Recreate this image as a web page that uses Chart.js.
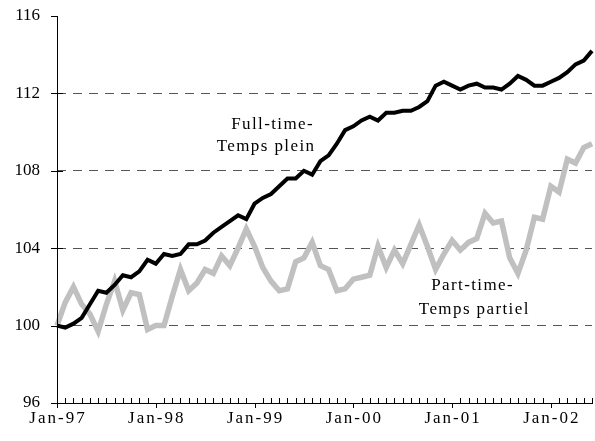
<!DOCTYPE html>
<html>
<head>
<meta charset="utf-8">
<script src="https://cdn.jsdelivr.net/npm/chart.js@4/dist/chart.umd.min.js"></script>
<style>
  html, body { margin: 0; padding: 0; background: #fff; }
  #wrap { width: 595px; height: 441px; }
</style>
</head>
<body>
<div id="wrap"><canvas id="empChart"></canvas></div>
<script>
// Monthly, Jan-97 .. Jun-02, index Jan-97 = 100
const monthNames = ['Jan', 'Feb', 'Mar', 'Apr', 'May', 'Jun', 'Jul', 'Aug', 'Sep', 'Oct', 'Nov', 'Dec'];
const years = ['97', '98', '99', '00', '01', '02'];

const months = [];
years.forEach(function(y) {
    monthNames.forEach(function(m) { months.push(m + '-' + y); });
});
months.length = 66; // last month is Jun-02

const fullTime = [
    100.0, 99.9, 100.1, 100.4, 101.1, 101.8, 101.7, 102.1, 102.6, 102.5, 102.8, 103.4,
    103.2, 103.7, 103.6, 103.7, 104.2, 104.2, 104.4, 104.8, 105.1, 105.4, 105.7, 105.5,
    106.3, 106.6, 106.8, 107.2, 107.6, 107.6, 108.0, 107.8, 108.5, 108.8, 109.4, 110.1,
    110.3, 110.6, 110.8, 110.6, 111.0, 111.0, 111.1, 111.1, 111.3, 111.6, 112.4, 112.6,
    112.4, 112.2, 112.4, 112.5, 112.3, 112.3, 112.2, 112.5, 112.9, 112.7, 112.4, 112.4,
    112.6, 112.8, 113.1, 113.5, 113.7, 114.2
];

const partTime = [
    100.0, 101.2, 102.0, 101.1, 100.6, 99.7, 101.1, 102.3, 100.8, 101.7, 101.6, 99.8,
    100.0, 100.0, 101.5, 102.9, 101.8, 102.2, 102.9, 102.7, 103.6, 103.1, 104.0, 105.0,
    104.1, 103.0, 102.3, 101.8, 101.9, 103.3, 103.5, 104.3, 103.1, 102.9, 101.8, 101.9,
    102.4, 102.5, 102.6, 104.1, 103.0, 103.9, 103.2, 104.2, 105.2, 104.1, 102.9, 103.7,
    104.4, 103.9, 104.3, 104.5, 105.8, 105.3, 105.4, 103.5, 102.7, 103.9, 105.6, 105.5,
    107.2, 106.9, 108.6, 108.4, 109.2, 109.4
];

const yTicks = [96, 100, 104, 108, 112, 116];

const serif = '"Liberation Serif", "Times New Roman", serif';

// axis tick marks, x labels and series labels drawn from the scales
const decorations = {
    id: 'decorations',
    afterDraw: function(chart) {
        const ctx = chart.ctx;
        const x = chart.scales.x;
        const y = chart.scales.y;
        const area = chart.chartArea;
        ctx.save();
        ctx.setLineDash([]);
        ctx.strokeStyle = '#000';
        ctx.lineWidth = 1;
        ctx.beginPath();
        // y axis line
        ctx.moveTo(area.left + 0.5, area.top);
        ctx.lineTo(area.left + 0.5, area.bottom);
        months.forEach(function(m, i) {
            const px = Math.round(x.getPixelForValue(i)) + 0.5;
            if (m.indexOf('Jan') === 0) {
                ctx.moveTo(px, area.bottom);
                ctx.lineTo(px, area.bottom + 5);
            } else {
                ctx.moveTo(px, area.bottom);
                ctx.lineTo(px, area.bottom - 5);
            }
        });
        yTicks.forEach(function(v) {
            const py = Math.round(y.getPixelForValue(v)) + 0.5;
            ctx.moveTo(area.left - 6, py);
            ctx.lineTo(v === 116 ? area.left : area.left + 6, py);
        });
        ctx.stroke();

        ctx.fillStyle = '#000';
        ctx.font = '17px ' + serif;
        ctx.textAlign = 'center';
        ctx.textBaseline = 'alphabetic';
        ctx.letterSpacing = '2px';
        months.forEach(function(m, i) {
            if (m.indexOf('Jan') === 0) {
                ctx.fillText(m, x.getPixelForValue(i) + 1, area.bottom + 20);
            }
        });

        ctx.letterSpacing = '1.4px';
        ctx.fillText('Full-time-', x.getPixelForValue(26.2), y.getPixelForValue(110.18));
        ctx.fillText('Temps plein', x.getPixelForValue(25.4), y.getPixelForValue(109.04));
        ctx.fillText('Part-time-', x.getPixelForValue(50.5), y.getPixelForValue(101.85));
        ctx.fillText('Temps partiel', x.getPixelForValue(50.7), y.getPixelForValue(100.6));
        ctx.restore();
    }
};

new Chart(document.getElementById('empChart'), {
    type: 'line',
    data: {
        labels: months,
        datasets: [{
            label: 'Full-time - Temps plein',
            data: fullTime,
            borderColor: '#000000',
            borderWidth: 4,
            pointRadius: 0,
            tension: 0,
            fill: false
        }, {
            label: 'Part-time - Temps partiel',
            data: partTime,
            borderColor: '#c0c0c0',
            borderWidth: 5.5,
            pointRadius: 0,
            tension: 0,
            fill: false
        }]
    },
    options: {
        responsive: true,
        maintainAspectRatio: false,
        animation: false,
        layout: {
            padding: { top: 16, right: 3, left: 0, bottom: 0 }
        },
        plugins: {
            legend: { display: false },
            title: { display: false },
            tooltip: { enabled: false }
        },
        scales: {
            x: {
                type: 'category',
                offset: false,
                grid: { display: false, drawTicks: false },
                border: { display: true, color: '#000', width: 1 },
                ticks: { display: false },
                afterFit: function(scale) { scale.height = 38; }
            },
            y: {
                min: 96,
                max: 116,
                afterBuildTicks: function(scale) {
                    scale.ticks = yTicks.map(function(v) { return { value: v }; });
                },
                grid: {
                    drawTicks: false,
                    color: function(c) {
                        const v = c.tick && c.tick.value;
                        return (v === 96 || v === 116) ? 'rgba(0,0,0,0)' : '#555';
                    },
                    lineWidth: 1
                },
                // in v4 border.dash styles the grid lines
                border: { display: false, dash: [9, 7] },
                ticks: {
                    color: '#000',
                    padding: 17,
                    font: { family: serif, size: 17 }
                },
                afterFit: function(scale) {
                    scale.width = 57;
                    scale.paddingTop = 0;
                    scale.paddingBottom = 0;
                }
            }
        }
    },
    plugins: [decorations]
});
</script>
</body>
</html>
